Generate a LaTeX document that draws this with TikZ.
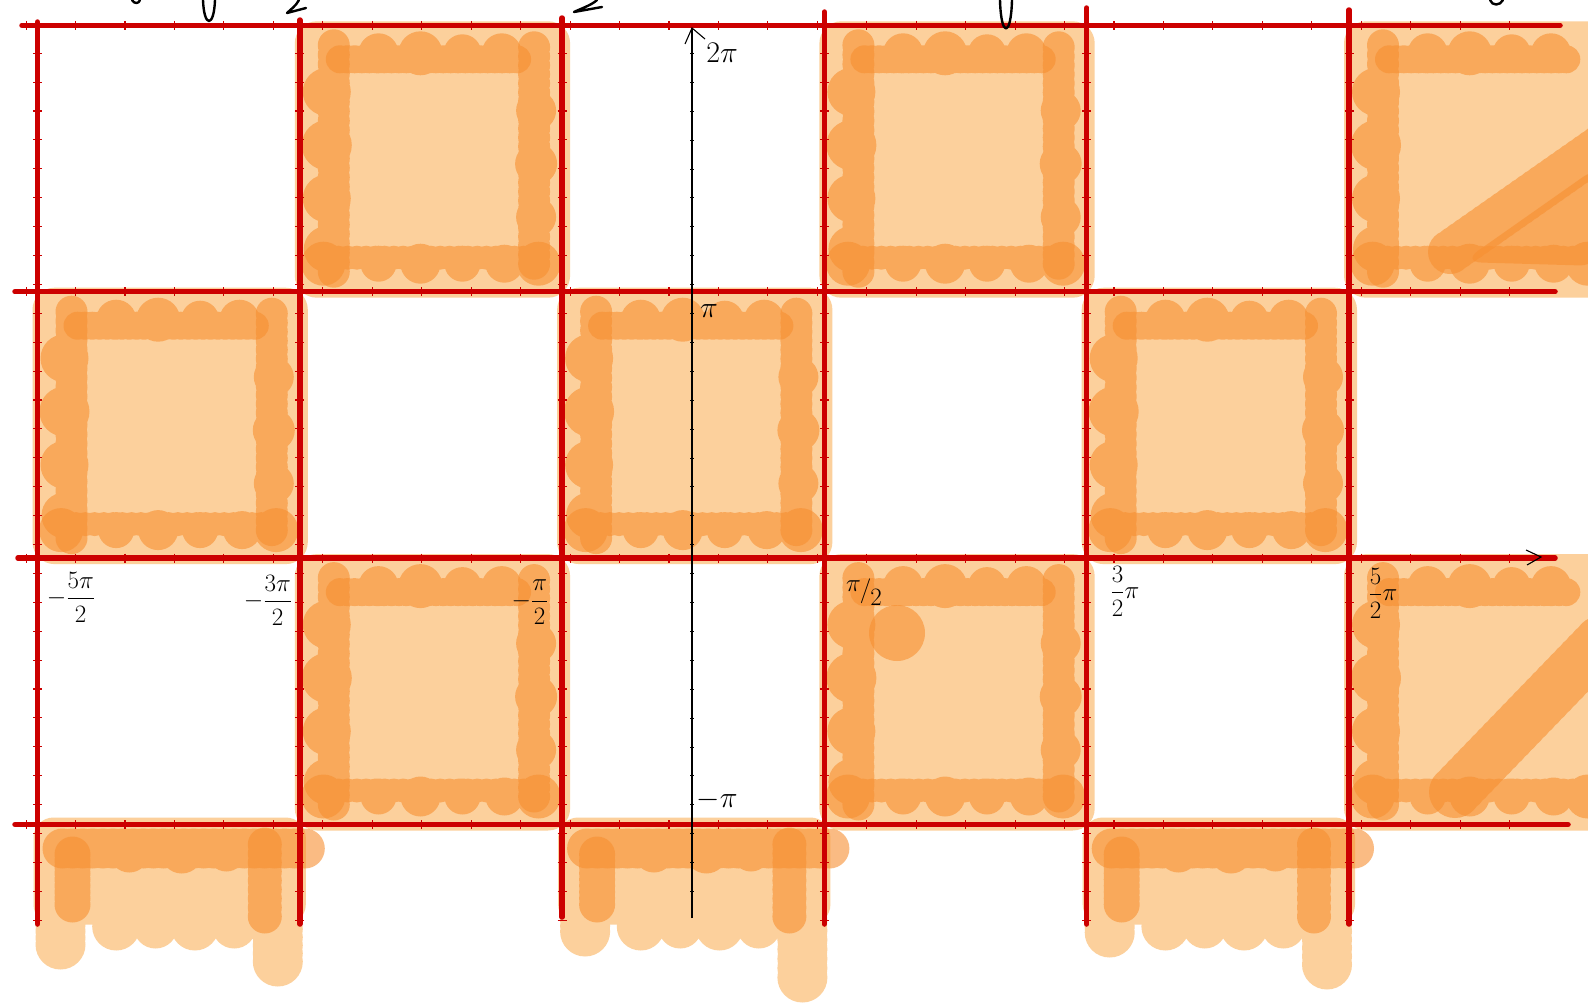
\RequirePackage{fix-cm}
\documentclass[tikz,border=0pt]{standalone}
\usepackage{amsmath}
\usepackage{xcolor}
\usepackage{tikz}
\usetikzlibrary{calc}

\definecolor{gridred}{RGB}{204,0,0}
\definecolor{palepeach}{RGB}{252,208,156}
\definecolor{deeppeach}{RGB}{247,143,49}

\begin{document}
\begin{tikzpicture}[x=1pt,y=-1pt,
  gridline/.style={gridred, line width=5.5pt, line cap=round},
  tickmark/.style={gridred, line width=1.1pt},
  axisline/.style={black, line width=1.1pt},
  pen/.style={black, line width=2.4pt, line cap=round, line join=round},
  pale/.style={fill=palepeach},
  ink/.style={fill=deeppeach, fill opacity=0.6},
  lbl/.style={font=\fontsize{25}{29}\selectfont, inner sep=0pt},
  axlbl/.style={font=\fontsize{30}{34}\selectfont, inner sep=0pt}]
\def\xo{37.5}
\def\yo{25.3}
\def\cw{262.3}
\def\ch{266.4}
\useasboundingbox (0,0) rectangle (1588,1007);
\clip (0,0) rectangle (1588,1007);
\fill[white] (0,0) rectangle (1588,1007);

% one shaded square: pale base, left, top and bottom strokes
\def\patch#1#2{%
  \pgfmathsetmacro\px{\xo+#1*\cw}%
  \pgfmathsetmacro\py{\yo+#2*\ch}%
  \fill[pale, rounded corners=22] (\px-5,\py-4) rectangle (\px+\cw+8,\py+\ch+6);
  \fill[ink] \foreach \i in {0,...,24} {(\px+34,{\py+20+(\ch-40)*\i/24}) circle (16)}
    \foreach \fr/\rad in {0.25/24,0.45/25,0.65/24,0.84/23} {(\px+27,{\py+\fr*\ch}) circle (\rad)};
  \fill[ink] \foreach \i in {0,...,24} {({\px+40+(\cw-85)*\i/24},\py+34) circle (14)}
    \foreach \fr/\rad in {0.3/20,0.46/22,0.62/19,0.77/20} {({\px+\fr*\cw},\py+28) circle (\rad)};
  \fill[ink] \foreach \i in {0,...,24} {({\px+20+(\cw-40)*\i/24},\py+\ch-34) circle (12)}
    \foreach \fr/\rad in {0.09/22,0.3/18,0.46/20,0.62/18,0.78/19,0.91/22} {({\px+\fr*\cw},\py+\ch-28) circle (\rad)};
}
% right stroke of a square
\def\rside#1#2{%
  \pgfmathsetmacro\px{\xo+#1*\cw}%
  \pgfmathsetmacro\py{\yo+#2*\ch}%
  \fill[ink] \foreach \i in {0,...,24} {(\px+\cw-28,{\py+22+(\ch-50)*\i/24}) circle (16)}
    \foreach \fr/\rad in {0.32/20,0.52/21,0.72/20} {(\px+\cw-26,{\py+\fr*\ch}) circle (\rad)};
}
% cut-off square below the last line, with drips
\def\stub#1#2#3{%
  \pgfmathsetmacro\px{\xo+#1*\cw}%
  \pgfmathsetmacro\py{\yo+3*\ch}%
  \fill[pale, rounded corners=20] (\px-4,\py-7) rectangle (\px+\cw+6,\py+100);
  \fill[pale] \foreach \i in {0,...,12} {(\px+23,{\py+40+(#2-40)*\i/12}) circle (25)}
    \foreach \i in {0,...,12} {(\px+\cw-22,{\py+40+(#3-40)*\i/12}) circle (25)}
    \foreach \fr/\rad in {0.3/24,0.45/22,0.6/24,0.75/22} {({\px+\fr*\cw},\py+102) circle (\rad)};
  \fill[ink] \foreach \i in {0,...,24} {({\px+25+(\cw-20)*\i/24},\py+24) circle (20)}
    \foreach \fr/\rad in {0.35/20,0.55/21,0.72/19} {({\px+\fr*\cw},\py+28) circle (\rad)};
  \fill[ink] \foreach \i in {0,...,8} {(\px+35,{\py+30+50*\i/8}) circle (18)};
  \fill[ink] \foreach \i in {0,...,8} {(\px+\cw-35,{\py+20+72*\i/8}) circle (17)};
}

% checkerboard
\patch{1}{0} \rside{1}{0}
\patch{3}{0} \rside{3}{0}
\patch{5}{0}
\patch{0}{1} \rside{0}{1}
\patch{2}{1} \rside{2}{1}
\patch{4}{1} \rside{4}{1}
\patch{1}{2} \rside{1}{2}
\patch{3}{2} \rside{3}{2}
\patch{5}{2}
\stub{0}{120}{137}
\stub{2}{107}{153}
\stub{4}{108}{140}

% extra strokes
\fill[ink] (897,633) circle (28);
\fill[ink] \foreach \i in {0,...,24} {({1450+150*\i/24},{252-105*\i/24}) circle (22)};
\fill[ink, rounded corners=20] (1462,262) -- (1600,165) -- (1600,266) -- cycle;
\fill[ink] \foreach \i in {0,...,24} {({1455+145*\i/24},{792-150*\i/24}) circle (26)};

% red grid
\foreach \k/\ya/\yb in {0/22/924,1/20/924,2/18/917,3/12/924,4/8/924,5/10/924}
  \draw[gridline] ({\xo+\k*\cw},\ya) -- ({\xo+\k*\cw},\yb);
\foreach \k/\xa/\xb in {0/22/1560,1/15/1555,2/18/1555,3/15/1568}
  \draw[gridline] (\xa,{\yo+\k*\ch}) -- (\xb,{\yo+\k*\ch});
\foreach \k in {0,...,3}
  \foreach \i in {0,...,30}
    \draw[tickmark] ({26.1+\i*49.45},{\yo+\k*\ch-4.5}) -- ++(0,9);
\foreach \k in {0,...,5}
  \foreach \j in {0,...,31}
    \draw[tickmark] ({\xo+\k*\cw-4.5},{24.3+\j*28.9}) -- ++(9,0);

% axes
\coordinate (ybot) at (692,918);
\coordinate (ytop) at (692,28);
\coordinate (xtip) at (1541,557);
\draw[axisline] (ybot) -- (ytop);
\draw[axisline] (685,44) -- (ytop) -- (705,39);
\draw[axisline] (1526,550) -- (xtip) -- (1527,565);
\foreach \j in {1,...,30}
  \draw[black, line width=0.5pt] (690,{24.3+\j*28.9}) -- ++(4,0);

% labels
\node[axlbl] (twopi) at (722,53) {$2\pi$};
\node[axlbl] (pi) at (709,311) {$\pi$};
\node[axlbl] (mpi) at (717,800) {$-\pi$};
\node[lbl] (mfivehalf) at (71,597) {$-\dfrac{5\pi}{2}$};
\node[lbl] (mthreehalf) at (268,600) {$-\dfrac{3\pi}{2}$};
\node[lbl] (mhalf) at (530,602) {$-\dfrac{\pi}{2}$};
\node[lbl] (half) at (864,592) {\raisebox{6pt}{$\pi$}\kern-1pt/\kern-1pt\raisebox{-8pt}{2}};
\node[lbl] (threehalf) at (1125,591) {$\dfrac{3}{2}\pi$};
\node[lbl] (fivehalf) at (1383,593) {$\dfrac{5}{2}\pi$};

% cut-off writing at the top edge
\draw[pen] (132,0) .. controls (134,4) and (139,4) .. (140,0);
\draw[pen] (203,0) .. controls (204,28) and (214,28) .. (215,0);
\draw[pen] (299,0) .. controls (296,6) and (290,10) .. (287,13) -- (306,8);
\draw[pen] (597,0) .. controls (592,5) and (580,9) .. (574,12) -- (602,7);
\draw[pen] (1000,0) .. controls (1001,38) and (1011,38) .. (1012,0);
\draw[pen] (1490,0) .. controls (1492,6) and (1500,6) .. (1503,0);
\end{tikzpicture}
\end{document}
